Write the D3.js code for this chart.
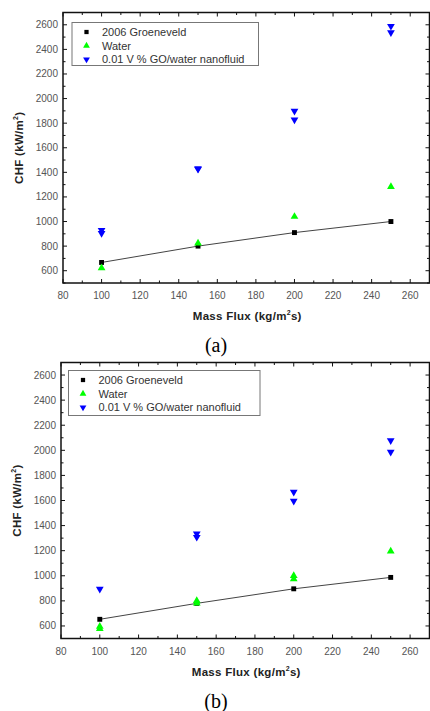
<!DOCTYPE html>
<html>
<head>
<meta charset="utf-8">
<script src="https://cdn.jsdelivr.net/npm/d3@7"></script>
<style>
  html, body { margin: 0; padding: 0; background: #fff; }
  svg { display: block; }
  text { font-family: "Liberation Sans", Arial, sans-serif; }
  .caption { font-family: "Liberation Serif", "Times New Roman", serif; }
</style>
</head>
<body>
<svg id="chart" width="430" height="711"></svg>
<script>
// values
const xTicks = [80, 100, 120, 140, 160, 180, 200, 220, 240, 260];
const yTicks = [600, 800, 1000, 1200, 1400, 1600, 1800, 2000, 2200, 2400, 2600];
const legendNames = ['2006 Groeneveld', 'Water', '0.01 V % GO/water nanofluid'];

const groenXA = [100, 150, 200, 250];
const groenYA = [667, 800, 910, 1000];
const waterXA = [100, 150, 200, 250];
const waterYA = [622, 824, 1040, 1283];
const goXA = [100, 100, 150, 150, 200, 200, 250, 250];
const goYA = [930, 905, 1431, 1426, 1898, 1828, 2589, 2538];

const groenXB = [100, 150, 200, 250];
const groenYB = [653, 780, 896, 987];
const waterXB = [100, 100, 150, 150, 200, 200, 250];
const waterYB = [595, 578, 801, 780, 1000, 975, 1195];
const goXB = [100, 150, 150, 200, 200, 250, 250];
const goYB = [894, 1335, 1308, 1668, 1596, 2078, 1986];

const svg = d3.select('#chart');

const drawPanel = (p) => {
    const x = d3.scaleLinear().domain([80, 270]).range([p.left, p.right]);
    const y = d3.scaleLinear().domain([500, 2700]).range([p.bottom, p.top]);
    const g = svg.append('g');

    const majorX = xTicks, minorX = d3.range(90, 270, 20);
    const majorY = yTicks, minorY = d3.range(500, 2701, 200);

    // ticks point inward on all four sides
    const tick = (x1, y1, x2, y2) => g.append('line')
        .attr('x1', x1).attr('y1', y1).attr('x2', x2).attr('y2', y2)
        .attr('stroke', '#111').attr('stroke-width', 1);
    majorX.concat(minorX).forEach(v => {
        const len = majorX.includes(v) ? 4 : 2.5;
        tick(x(v), p.bottom, x(v), p.bottom - len);
        tick(x(v), p.top, x(v), p.top + len);
    });
    majorY.concat(minorY).forEach(v => {
        const len = majorY.includes(v) ? 4 : 2.5;
        tick(p.left, y(v), p.left + len, y(v));
        tick(p.right, y(v), p.right - len, y(v));
    });

    g.append('rect')
        .attr('x', p.left).attr('y', p.top)
        .attr('width', p.right - p.left).attr('height', p.bottom - p.top)
        .attr('fill', 'none').attr('stroke', '#111').attr('stroke-width', 1.5);

    // tick labels
    g.selectAll('.xl').data(majorX).enter().append('text')
        .attr('x', d => x(d)).attr('y', p.bottom + 16)
        .attr('text-anchor', 'middle')
        .attr('font-size', 10)
        .attr('fill', '#555').text(d => d);
    g.selectAll('.yl').data(majorY).enter().append('text')
        .attr('x', p.left - 5).attr('y', d => y(d) + 3.5)
        .attr('text-anchor', 'end')
        .attr('font-size', 10)
        .attr('fill', '#555').text(d => d);

    // axis titles
    const xt = g.append('text')
        .attr('x', (p.left + p.right) / 2 + 1).attr('y', p.bottom + 37)
        .attr('text-anchor', 'middle')
        .attr('font-size', 11.5).attr('font-weight', 'bold')
        .attr('letter-spacing', 0.3)
        .attr('fill', '#222');
    xt.append('tspan').text('Mass Flux (kg/m');
    xt.append('tspan').attr('font-size', 7).attr('dy', -5).text('2');
    xt.append('tspan').attr('dy', 5).text('s)');

    const yt = g.append('text')
        .attr('transform', `translate(${p.left - 40},${(p.top + p.bottom) / 2}) rotate(-90)`)
        .attr('text-anchor', 'middle')
        .attr('font-size', 11.5).attr('font-weight', 'bold')
        .attr('letter-spacing', 0.3)
        .attr('fill', '#222');
    yt.append('tspan').text('CHF (kW/m');
    yt.append('tspan').attr('font-size', 7).attr('dy', -5).text('2');
    yt.append('tspan').attr('dy', 5).text(')');

    // caption
    g.append('text')
        .attr('class', 'caption')
        .attr('x', 216).attr('y', p.bottom + 69)
        .attr('text-anchor', 'middle')
        .attr('font-size', 20)
        .attr('fill', '#000').text(p.caption);

    // Groeneveld line + squares
    const pts = p.groenX.map((v, i) => [v, p.groenY[i]]);
    g.append('path')
        .attr('d', d3.line().x(d => x(d[0])).y(d => y(d[1]))(pts))
        .attr('fill', 'none').attr('stroke', '#444').attr('stroke-width', 1);

    const sq = d3.symbol().type(d3.symbolSquare).size(24);
    const up = d3.symbol().type(d3.symbolTriangle).size(26);

    g.selectAll('.sq').data(pts).enter().append('path')
        .attr('d', sq)
        .attr('transform', d => `translate(${x(d[0])},${y(d[1])})`)
        .attr('fill', '#000');

    g.selectAll('.wt').data(p.waterX.map((v, i) => [v, p.waterY[i]])).enter().append('path')
        .attr('d', up)
        .attr('transform', d => `translate(${x(d[0])},${y(d[1])})`)
        .attr('fill', '#00ff00');

    g.selectAll('.go').data(p.goX.map((v, i) => [v, p.goY[i]])).enter().append('path')
        .attr('d', up)
        .attr('transform', d => `translate(${x(d[0])},${y(d[1])}) rotate(180)`)
        .attr('fill', '#0000ff');

    // legend
    const lg = g.append('g');
    lg.append('rect')
        .attr('x', p.legend[0]).attr('y', p.legend[1])
        .attr('width', p.legend[2]).attr('height', p.legend[3])
        .attr('fill', '#fff').attr('stroke', '#777').attr('stroke-width', 1);
    const rowY = i => p.legend[1] + 9.5 + i * 13.7;
    const markers = [
        { d: d3.symbol().type(d3.symbolSquare).size(18)(), fill: '#000', rot: 0 },
        { d: d3.symbol().type(d3.symbolTriangle).size(20)(), fill: '#00ff00', rot: 0 },
        { d: d3.symbol().type(d3.symbolTriangle).size(20)(), fill: '#0000ff', rot: 180 }
    ];
    legendNames.forEach((name, i) => {
        lg.append('path').attr('d', markers[i].d).attr('fill', markers[i].fill)
            .attr('transform', `translate(${p.legend[0] + 14.5},${rowY(i)}) rotate(${markers[i].rot})`);
        lg.append('text')
            .attr('x', p.legend[0] + 30).attr('y', rowY(i) + 4)
            .attr('font-size', 11)
            .attr('fill', '#333').text(name);
    });
};

drawPanel({
    left: 63, right: 429.5, top: 12.5, bottom: 283, caption: '(a)',
    legend: [72, 22.5, 186.5, 43],
    groenX: groenXA, groenY: groenYA, waterX: waterXA, waterY: waterYA, goX: goXA, goY: goYA
});
drawPanel({
    left: 61, right: 429.5, top: 362.5, bottom: 638.5, caption: '(b)',
    legend: [68.5, 370.5, 191.5, 45],
    groenX: groenXB, groenY: groenYB, waterX: waterXB, waterY: waterYB, goX: goXB, goY: goYB
});
</script>
</body>
</html>
